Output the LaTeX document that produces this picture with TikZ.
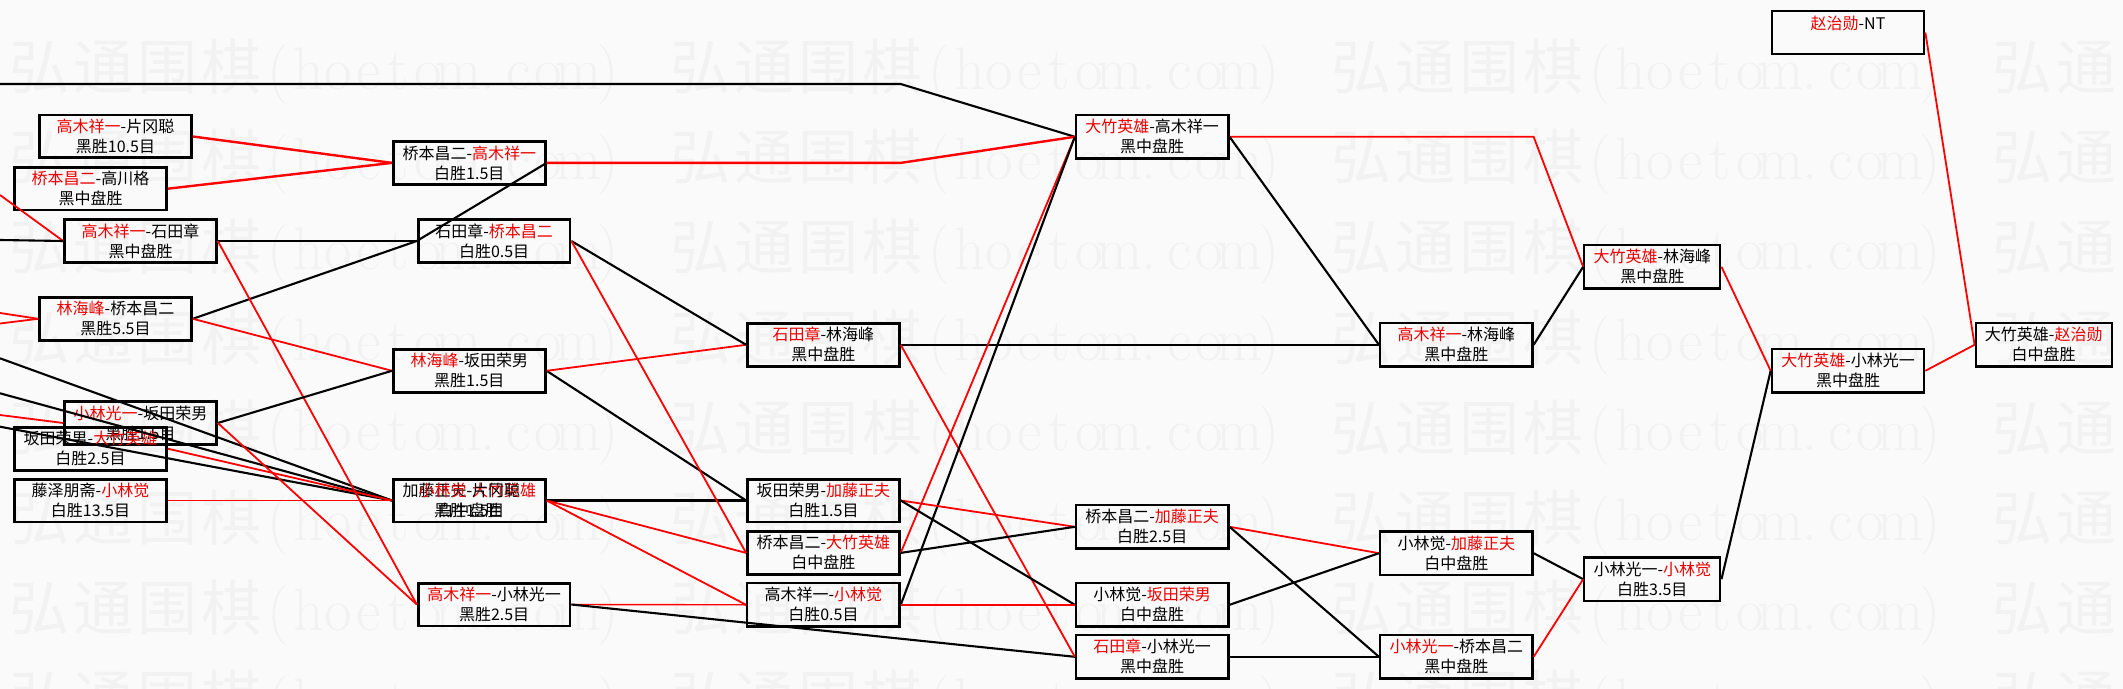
\documentclass[tikz,border=0pt]{standalone}
\usepackage{fontspec}
\newfontfamily\cjk{Noto Sans CJK SC}
\definecolor{wred}{RGB}{235,0,0}
\definecolor{lred}{RGB}{255,0,0}
\definecolor{bg}{RGB}{250,250,250}
\definecolor{wm}{RGB}{242,242,242}
\newcommand\R[1]{\textcolor{wred}{#1}}
\newcommand\wa[1]{\makebox[15pt][c]{#1}}
\newcommand\wc[1]{\makebox[32pt][c]{\cjk #1}}
\newcommand\wmtext{\wc{弘}\wc{通}\wc{围}\wc{棋}\wa{(}\wa{h}\wa{o}\wa{e}\wa{t}\wa{o}\wa{m}\wa{.}\wa{c}\wa{o}\wa{m}\wa{)}}
\begin{document}
\begin{tikzpicture}[x=0.5pt,y=-0.5pt,
  match/.style={draw=black,line width=1.4pt,minimum width=75.9pt,minimum height=21.4pt,inner sep=0pt,align=center,font=\cjk\fontsize{8pt}{10pt}\selectfont},
  thin/.style={line width=1.15pt,minimum width=76.2pt,minimum height=21.7pt},
  narrow/.style={minimum width=68pt},
  win/.style={draw=lred,line width=0.9pt},
  winb/.style={draw=lred,line width=1.2pt},
  wint/.style={draw=lred,line width=0.7pt},
  lose/.style={draw=black,line width=1.05pt},
  wmark/.style={anchor=base west,inner sep=0pt,text=wm,font=\fontsize{30pt}{30pt}\selectfont}]
\fill[bg] (0,0) rectangle (2123,689);
\useasboundingbox (0,0) rectangle (2123,689);
% watermark
\begin{scope}
\clip (0,0) rectangle (2123,689);
\foreach \r in {0,...,7}{\foreach \c in {0,...,3}{
  \node[wmark] at ({7+661*\c},{90+90*\r}) {\wmtext};
}}
\end{scope}
% column a
\node[match] (a1) at (115.5,136.5) {\R{高木祥一}-片冈聪\\黑胜10.5目};
\node[match] (a2) at (90.5,188.7) {\R{桥本昌二}-高川格\\黑中盘胜};
\node[match] (a3) at (140.5,241) {\R{高木祥一}-石田章\\黑中盘胜};
\node[match] (a4) at (115.5,318.8) {\R{林海峰}-桥本昌二\\黑胜5.5目};
\node[match] (a5) at (140.5,423) {\R{小林光一}-坂田荣男\\黑胜1.5目};
\node[match] (a6) at (90.5,448.7) {坂田荣男-\R{大竹英雄}\\白胜2.5目};
\node[match] (a7) at (90.5,500.5) {藤泽朋斋-\R{小林觉}\\白胜13.5目};
% column b
\node[match] (b1) at (469.3,162.9) {桥本昌二-\R{高木祥一}\\白胜1.5目};
\node[match] (b2) at (494.1,241) {石田章-\R{桥本昌二}\\白胜0.5目};
\node[match] (b3) at (469.3,370.8) {\R{林海峰}-坂田荣男\\黑胜1.5目};
\node[match] (b4) at (469.3,500.5) {加藤正夫-\R{大竹英雄}\\白中盘胜};
\node[match,draw=none] (b4x) at (469.3,500.5) {\R{小林觉}-片冈聪\\黑胜1.5目};
\node[match] (b5) at (494.1,604.5) {\R{高木祥一}-小林光一\\黑胜2.5目};
% column c
\node[match] (c1) at (823.4,344.8) {\R{石田章}-林海峰\\黑中盘胜};
\node[match] (c2) at (823.4,500.5) {坂田荣男-\R{加藤正夫}\\白胜1.5目};
\node[match] (c3) at (823.4,552.9) {桥本昌二-\R{大竹英雄}\\白中盘胜};
\node[match,thin] (c4) at (823.4,604.8) {高木祥一-\R{小林觉}\\白胜0.5目};
% column d
\node[match,thin] (d1) at (1152.2,136.8) {\R{大竹英雄}-高木祥一\\黑中盘胜};
\node[match,thin] (d2) at (1152.2,526.8) {桥本昌二-\R{加藤正夫}\\白胜2.5目};
\node[match,thin] (d3) at (1152.2,604.8) {小林觉-\R{坂田荣男}\\白中盘胜};
\node[match,thin] (d4) at (1152.2,656.8) {\R{石田章}-小林光一\\黑中盘胜};
% column e
\node[match,thin] (e1) at (1456.3,344.8) {\R{高木祥一}-林海峰\\黑中盘胜};
\node[match,thin] (e2) at (1456.3,553.2) {小林觉-\R{加藤正夫}\\白中盘胜};
\node[match,thin] (e3) at (1456.3,656.8) {\R{小林光一}-桥本昌二\\黑中盘胜};
% column f
\node[match,thin,narrow] (f1) at (1652.3,266.8) {\R{大竹英雄}-林海峰\\黑中盘胜};
\node[match,thin,narrow] (f2) at (1652.3,579.2) {小林光一-\R{小林觉}\\白胜3.5目};
% column g
\node[match,thin] (g1) at (1848,32.5) {\R{赵治勋}-NT\\\mbox{}};
\node[match,thin] (g2) at (1848,370.8) {\R{大竹英雄}-小林光一\\黑中盘胜};
% column h
\node[match,thin,narrow] (h1) at (2043.7,344.8) {大竹英雄-\R{赵治勋}\\白中盘胜};
% free ends and bends
\coordinate (l1) at (0,84);
\coordinate (l2) at (0,195);
\coordinate (l3) at (0,240);
\coordinate (l4) at (0,313);
\coordinate (l5) at (0,323.5);
\coordinate (l6) at (0,358.3);
\coordinate (l7) at (0,393.3);
\coordinate (l8) at (0,415);
\coordinate (l9) at (0,426.7);
\coordinate (k1) at (900.7,84);
\coordinate (k2) at (900.7,162.9);
\coordinate (k3) at (1533.6,136.8);
% connectors from the left edge
\draw[lose] (l1) -- (k1) -- (d1.west);
\draw[win] (l2) -- (a3.west);
\draw[lose] (l3) -- (a3.west);
\draw[win] (l4) -- (a4.west);
\draw[win] (l5) -- (a4.west);
\draw[lose] (l6) -- (b4.west);
\draw[lose] (l7) -- (b4.west);
\draw[win] (l8) -- (a5.west);
\draw[lose] (l9) -- (b4.west);
% a -> b
\draw[winb] (a1.east) -- (b1.west);
\draw[winb] (a2.east) -- (b1.west);
\draw[lose] (a3.east) -- (b2.west);
\draw[lose] (a4.east) -- (b2.west);
\draw[lose] (b2.west) -- (b1.east);
\draw[win] (a3.east) -- (b5.west);
\draw[win] (a4.east) -- (b3.west);
\draw[lose] (a5.east) -- (b3.west);
\draw[win] (a5.east) -- (b5.west);
\draw[win] (a6.east) -- (b4.west);
\draw[win] (a7.east) -- (b4.west);
% b -> c / d
\draw[lose] (b4.east) -- (c2.west);
\draw[win] (b4.east) -- (c3.west);
\draw[win] (b4.east) -- (c4.west);
\draw[lose] (b3.east) -- (c2.west);
\draw[win] (b3.east) -- (c1.west);
\draw[lose] (b2.east) -- (c1.west);
\draw[win] (b2.east) -- (c3.west);
\draw[wint] (b5.east) -- (c4.west);
\draw[lose] (b5.east) -- (d4.west);
\draw[winb] (b1.east) -- (k2) -- (d1.west);
% c -> d / e
\draw[lose] (c1.east) -- (e1.west);
\draw[win] (c1.east) -- (d4.west);
\draw[win] (c3.east) -- (d1.west);
\draw[lose] (c4.east) -- (d1.west);
\draw[win] (c2.east) -- (d2.west);
\draw[lose] (c2.east) -- (d3.west);
\draw[lose] (c3.east) -- (d2.west);
\draw[wint] (c4.east) -- (d3.west);
% d -> e / f
\draw[win] (d1.east) -- (k3) -- (f1.west);
\draw[lose] (d1.east) -- (e1.west);
\draw[win] (d2.east) -- (e2.west);
\draw[lose] (d2.east) -- (e3.west);
\draw[lose] (d3.east) -- (e2.west);
\draw[lose] (d4.east) -- (e3.west);
% e -> f -> g -> h
\draw[lose] (e1.east) -- (f1.west);
\draw[lose] (e2.east) -- (f2.west);
\draw[win] (e3.east) -- (f2.west);
\draw[win] (f1.east) -- (g2.west);
\draw[lose] (f2.east) -- (g2.west);
\draw[win] (g2.east) -- (h1.west);
\draw[win] (g1.east) -- (h1.west);
\end{tikzpicture}
\end{document}
